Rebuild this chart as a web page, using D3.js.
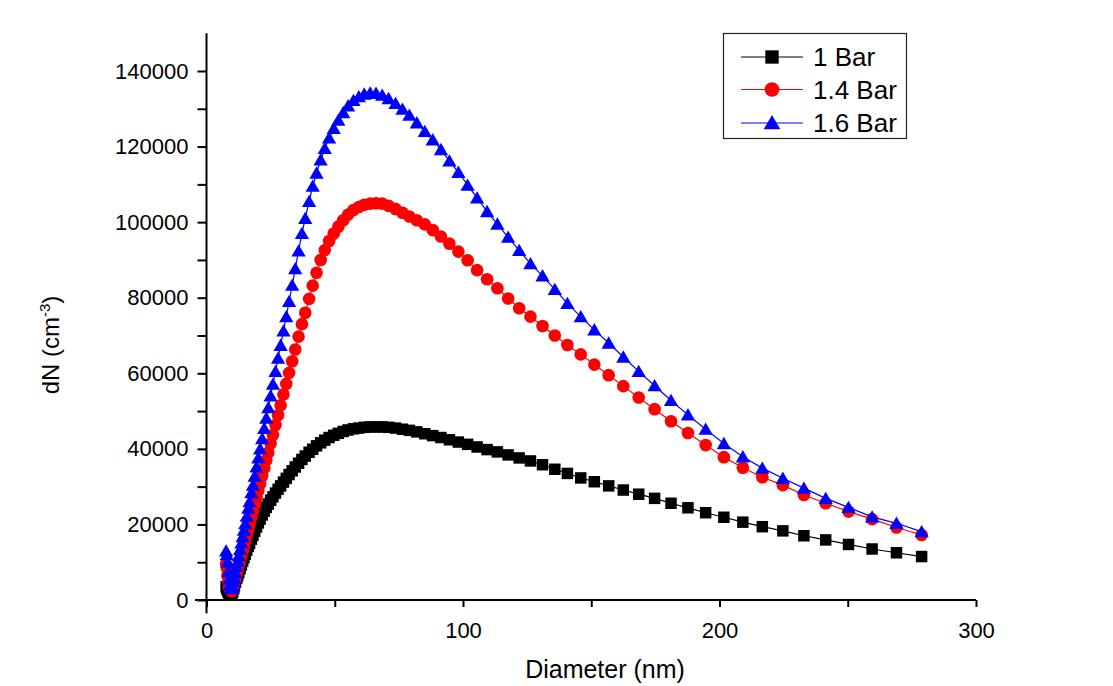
<!DOCTYPE html>
<html>
<head>
<meta charset="utf-8">
<script src="https://cdn.jsdelivr.net/npm/d3@7/dist/d3.min.js"></script>
<style>
  html, body { margin: 0; padding: 0; background: #ffffff; }
  svg { display: block; }
  text { font-family: "Liberation Sans", Arial, sans-serif; fill: #000; }
</style>
</head>
<body>
<svg id="chart" width="1113" height="686"></svg>
<script>
// ---- data ----
const diameters = [7.64, 7.91, 8.20, 8.51, 8.82, 9.14, 9.47, 9.82, 10.2, 10.6, 10.9, 11.3, 11.8, 12.2, 12.6, 13.1, 13.6, 14.1, 14.6, 15.1,
  15.7, 16.3, 16.8, 17.5, 18.1, 18.8, 19.5, 20.2, 20.9, 21.7, 22.5, 23.3, 24.1, 25.0, 25.9, 26.9, 27.9, 28.9, 30.0, 31.1,
  32.2, 33.4, 34.6, 35.9, 37.2, 38.5, 40.0, 41.4, 42.9, 44.5, 46.1, 47.8, 49.6, 51.4, 53.3, 55.2, 57.3, 59.4, 61.5, 63.8,
  66.1, 68.5, 71.0, 73.7, 76.4, 79.1, 82.0, 85.1, 88.2, 91.4, 94.7, 98.2, 101.8, 105.5, 109.4, 113.4, 117.6, 121.9, 126.3, 131.0,
  135.8, 140.7, 145.9, 151.2, 156.8, 162.5, 168.5, 174.7, 181.1, 187.7, 194.6, 201.7, 209.1, 216.7, 224.7, 232.9, 241.4, 250.3, 259.5, 269.0,
  278.8];

const bar1 = [3500, 3000, 2500, 2000, 1700, 1500, 1400, 1500, 2000, 3000, 3800, 4700, 5700, 6500, 7300, 8300, 9300, 10300, 11200, 12100,
  13200, 14200, 15000, 16100, 17100, 18200, 19300, 20400, 21400, 22500, 23500, 24500, 25400, 26400, 27300, 28300, 29300, 30200, 31200, 32200,
  33200, 34200, 35200, 36200, 37200, 38100, 39100, 39900, 40800, 41600, 42300, 43000, 43600, 44100, 44600, 45000, 45300, 45500, 45700, 45800,
  45800, 45800, 45700, 45500, 45200, 44900, 44500, 44000, 43500, 43000, 42400, 41800, 41200, 40500, 39800, 39200, 38400, 37600, 36800, 35800,
  34600, 33500, 32300, 31300, 30200, 29100, 28000, 26900, 25600, 24400, 23100, 21900, 20600, 19400, 18300, 17000, 15900, 14700, 13500, 12500,
  11500];

const bar14 = [9500, 8500, 6500, 4800, 3600, 2900, 2500, 2300, 2800, 3800, 4600, 5700, 7000, 8000, 9100, 10400, 11700, 13000, 14300, 15600,
  17200, 18700, 20000, 21900, 23400, 25200, 27000, 28900, 30700, 32800, 34900, 37000, 39000, 41400, 43700, 46300, 48900, 51500, 54400, 57200,
  60100, 63200, 66300, 69700, 73000, 76000, 79700, 83200, 86600, 90000, 92600, 95000, 97000, 98800, 100500, 102000, 103200, 104000, 104600, 104900,
  105000, 104900, 104300, 103500, 102500, 101500, 100500, 99400, 97900, 96200, 94300, 92200, 89900, 87300, 84900, 82500, 79800, 77200, 75000, 72500,
  70000, 67500, 65000, 62300, 59500, 56600, 53600, 50500, 47300, 44200, 41000, 37800, 35000, 32500, 30400, 27800, 25600, 23400, 21400, 19200,
  17200];

const bar16 = [13000, 12000, 10000, 7500, 5500, 4000, 3200, 3000, 3500, 4800, 5800, 7200, 8900, 10300, 11700, 13400, 15100, 16800, 18500, 20200,
  22200, 24300, 26000, 28400, 30400, 32800, 35200, 37600, 40000, 42700, 45400, 48100, 50900, 54000, 57100, 60500, 64000, 67400, 71200, 75000,
  79000, 83300, 87700, 92400, 97000, 101000, 105500, 109500, 113000, 116500, 119500, 122300, 124800, 127000, 129000, 130800, 132200, 133200, 133900, 134200,
  134100, 133600, 132700, 131400, 129900, 128300, 126300, 124000, 121800, 119200, 116200, 113200, 109800, 106400, 102800, 99500, 96000, 92500, 89000, 85800,
  82200, 78500, 75000, 71500, 68000, 64300, 60500, 56700, 52800, 49000, 45200, 41400, 37900, 34900, 32200, 29600, 26900, 24500, 22000, 20300,
  18100];

const seriesNames = ["1 Bar", "1.4 Bar", "1.6 Bar"];
const xTicks = [0, 50, 100, 150, 200, 250, 300];
const xTickLabels = ["0", "", "100", "", "200", "", "300"];
const yTicks = [0, 10000, 20000, 30000, 40000, 50000, 60000, 70000, 80000, 90000, 100000, 110000, 120000, 130000, 140000];
const yTickLabels = ["0", "", "20000", "", "40000", "", "60000", "", "80000", "", "100000", "", "120000", "", "140000"];
const xTitle = "Diameter (nm)";

// ---- layout ----
const svg = d3.select("#chart");
const x = d3.scaleLinear().domain([0, 300]).range([206.5, 976]);
const y = d3.scaleLinear().domain([0, 140000]).range([600, 71]);

const series = [
  { name: seriesNames[0], values: bar1,  color: "#000000", symbol: d3.symbolSquare,   size: 132, dy: 0 },
  { name: seriesNames[1], values: bar14, color: "#ff0000", symbol: d3.symbolCircle,   size: 125, dy: 0 },
  { name: seriesNames[2], values: bar16, color: "#0000ff", symbol: d3.symbolTriangle, size: 88,  dy: 1.5 }
];

// ---- axes ----
const xAxis = d3.axisBottom(x).tickValues(xTicks)
  .tickFormat((d, i) => xTickLabels[i]).tickSize(7).tickPadding(15).tickSizeOuter(0);
const gx = svg.append("g").attr("transform", `translate(0,${y(0)})`).call(xAxis);
gx.select(".domain").remove();
gx.selectAll("line").attr("stroke", "#000").attr("stroke-width", 2);
gx.selectAll("text").attr("font-size", 22);

const yAxis = d3.axisLeft(y).tickValues(yTicks)
  .tickFormat((d, i) => yTickLabels[i]).tickSize(9).tickPadding(9).tickSizeOuter(0);
const gy = svg.append("g").attr("transform", `translate(${x(0)},0)`).call(yAxis);
gy.select(".domain").remove();
gy.selectAll("line").attr("stroke", "#000").attr("stroke-width", 2);
gy.selectAll("text").attr("font-size", 22);

// axis lines (crossing slightly past the origin)
svg.append("line").attr("x1", x(-4.5)).attr("x2", x(300)).attr("y1", y(0)).attr("y2", y(0))
  .attr("stroke", "#000").attr("stroke-width", 2);
svg.append("line").attr("x1", x(0)).attr("x2", x(0)).attr("y1", y(-3500)).attr("y2", y(150000))
  .attr("stroke", "#000").attr("stroke-width", 2);

// axis titles
svg.append("text").attr("x", 605).attr("y", 678).attr("text-anchor", "middle")
  .attr("font-size", 25).text(xTitle);
const yl = svg.append("text").attr("transform", "translate(59,345) rotate(-90)")
  .attr("text-anchor", "middle").attr("font-size", 24);
yl.append("tspan").text("dN (cm");
yl.append("tspan").attr("dy", -9).attr("font-size", 15).text("-3");
yl.append("tspan").attr("dy", 9).text(")");

// ---- series ----
const line = d3.line().x((d, i) => x(diameters[i])).y(d => y(d));
series.forEach(s => {
  const g = svg.append("g");
  g.append("path").datum(s.values).attr("d", line)
    .attr("fill", "none").attr("stroke", s.color).attr("stroke-width", 1.2);
  const sym = d3.symbol().type(s.symbol).size(s.size);
  g.selectAll("path.m").data(s.values).enter().append("path").attr("class", "m")
    .attr("d", sym)
    .attr("transform", (d, i) => `translate(${x(diameters[i])},${y(d) + s.dy})`)
    .attr("fill", s.color);
});

// ---- legend ----
const lg = svg.append("g");
lg.append("rect").attr("x", 723.5).attr("y", 33.5).attr("width", 183).attr("height", 105)
  .attr("fill", "#fff").attr("stroke", "#222").attr("stroke-width", 1.2);
const rowsY = [57, 89.5, 123];
series.forEach((s, i) => {
  lg.append("line").attr("x1", 741).attr("x2", 803).attr("y1", rowsY[i]).attr("y2", rowsY[i])
    .attr("stroke", s.color).attr("stroke-width", 1.2);
  lg.append("path").attr("d", d3.symbol().type(s.symbol).size(s.size * 1.35)())
    .attr("transform", `translate(772,${rowsY[i] + s.dy})`)
    .attr("fill", s.color);
  lg.append("text").attr("x", 813).attr("y", rowsY[i] + 9).attr("font-size", 26).text(s.name);
});
</script>
</body>
</html>
